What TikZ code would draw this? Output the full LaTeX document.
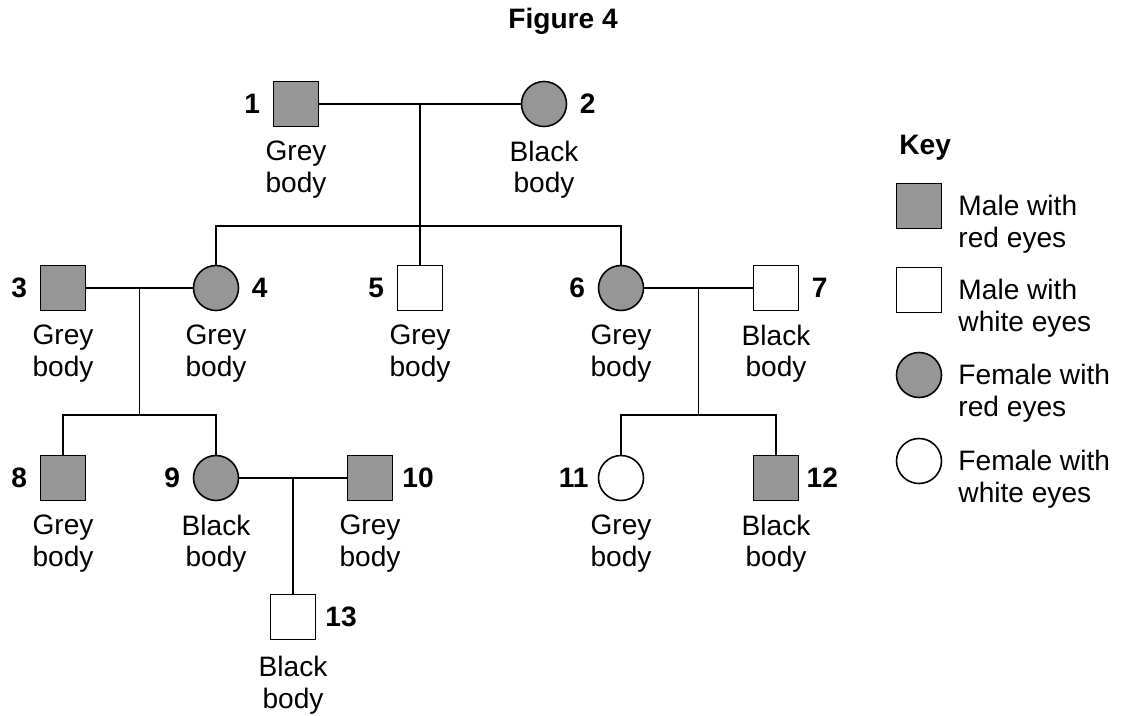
\documentclass[tikz,border=0pt]{standalone}
\usepackage{fontspec}
\setmainfont{Liberation Sans}
\usepackage{tikz}
\usetikzlibrary{positioning, calc}
\definecolor{eyegrey}{RGB}{150,150,150}
\tikzstyle{male} = [rectangle, draw, minimum size=0.9cm, inner sep=0pt, line width=0.9pt]
\tikzstyle{female} = [circle, draw, minimum size=0.9cm, inner sep=0pt, line width=0.9pt]
\tikzstyle{redeye} = [fill=eyegrey]
\tikzstyle{whiteeye} = [fill=white]
\tikzstyle{body} = [align=center, inner sep=0pt, font=\fontsize{16}{18}\selectfont]
\tikzstyle{num} = [inner sep=0pt, font=\fontsize{16}{18}\selectfont\bfseries]
\tikzstyle{line} = [draw, line width=0.9pt]

\begin{document}
\begin{tikzpicture}[x=0.02cm, y=-0.02cm]
			\useasboundingbox (0,0) rectangle (1125,716);
			\node [num] (title) at (563,21) {Figure 4};

			% first generation
			\node [male, redeye] (p1) at (296,104) {};
			\node [female, redeye] (p2) at (544,104) {};
			% second generation
			\node [male, redeye] (p3) at (63,288) {};
			\node [female, redeye] (p4) at (216,288) {};
			\node [male, whiteeye] (p5) at (420,288) {};
			\node [female, redeye] (p6) at (621,288) {};
			\node [male, whiteeye] (p7) at (776,288) {};
			% third generation
			\node [male, redeye] (p8) at (63,478) {};
			\node [female, redeye] (p9) at (216,478) {};
			\node [male, redeye] (p10) at (370,478) {};
			\node [female, whiteeye] (p11) at (621,478) {};
			\node [male, redeye] (p12) at (776,478) {};
			\node [male, whiteeye] (p13) at (293,617) {};

			\node [num, left=7pt of p1] (n1) {1};
			\node [num, right=7pt of p2] (n2) {2};
			\node [num, left=7pt of p3] (n3) {3};
			\node [num, right=7pt of p4] (n4) {4};
			\node [num, left=7pt of p5] (n5) {5};
			\node [num, left=7pt of p6] (n6) {6};
			\node [num, right=7pt of p7] (n7) {7};
			\node [num, left=7pt of p8] (n8) {8};
			\node [num, left=7pt of p9] (n9) {9};
			\node [num, right=5pt of p10] (n10) {10};
			\node [num, left=5pt of p11] (n11) {11};
			\node [num, right=4pt of p12] (n12) {12};
			\node [num, right=5pt of p13] (n13) {13};

			\node [body, below=7.5pt of p1] (t1) {Grey\\body};
			\node [body, below=7.5pt of p2] (t2) {Black\\body};
			\node [body, below=7.5pt of p3] (t3) {Grey\\body};
			\node [body, below=7.5pt of p4] (t4) {Grey\\body};
			\node [body, below=7.5pt of p5] (t5) {Grey\\body};
			\node [body, below=7.5pt of p6] (t6) {Grey\\body};
			\node [body, below=7.5pt of p7] (t7) {Black\\body};
			\node [body, below=7.5pt of p8] (t8) {Grey\\body};
			\node [body, below=7.5pt of p9] (t9) {Black\\body};
			\node [body, below=7.5pt of p10] (t10) {Grey\\body};
			\node [body, below=7.5pt of p11] (t11) {Grey\\body};
			\node [body, below=7.5pt of p12] (t12) {Black\\body};
			\node [body, below=9pt of p13] (t13) {Black\\body};

			% matings and offspring
			\coordinate (m12) at ($(p1)!0.5!(p2)$);
			\coordinate (m34) at ($(p3)!0.5!(p4)$);
			\coordinate (m67) at ($(p6)!0.5!(p7)$);
			\coordinate (m910) at ($(p9)!0.5!(p10)$);
			\coordinate (s1) at ($(m12)+(0,122)$);
			\coordinate (s2) at ($(m34)+(0,127)$);
			\coordinate (s3) at ($(m67)+(0,127)$);

			\path [line] (p1) -- (p2);
			\path [line] (m12) -- (p5);
			\path [line] (p4) |- (s1) -| (p6);
			\path [line] (p3) -- (p4);
			\path [line] (m34) -- (s2);
			\path [line] (p8) |- (s2) -| (p9);
			\path [line] (p6) -- (p7);
			\path [line] (m67) -- (s3);
			\path [line] (p11) |- (s3) -| (p12);
			\path [line] (p9) -- (p10);
			\path [line] (m910) -- (p13);

			% key
			\node [num, anchor=west] (key) at (899,148) {Key};
			\node [male, redeye] (k1) at (919,206) {};
			\node [male, whiteeye] (k2) at (919,290) {};
			\node [female, redeye] (k3) at (919,375) {};
			\node [female, whiteeye] (k4) at (919,461) {};
			\node [body, align=left, anchor=north west] (kt1) at ([xshift=9pt, yshift=6.3pt]k1.east) {Male with\\red eyes};
			\node [body, align=left, anchor=north west] (kt2) at ([xshift=9pt, yshift=6.3pt]k2.east) {Male with\\white eyes};
			\node [body, align=left, anchor=north west] (kt3) at ([xshift=9pt, yshift=6.3pt]k3.east) {Female with\\red eyes};
			\node [body, align=left, anchor=north west] (kt4) at ([xshift=9pt, yshift=6.3pt]k4.east) {Female with\\white eyes};
		\end{tikzpicture}
\end{document}
